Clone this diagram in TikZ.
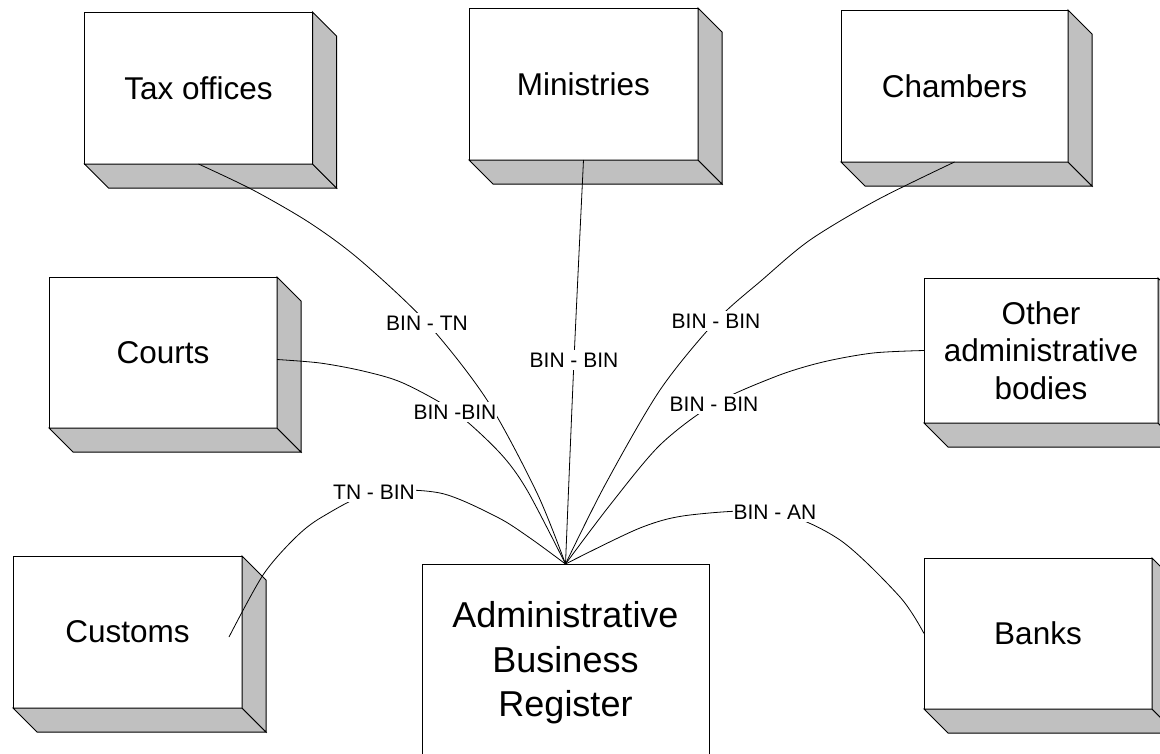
\documentclass[tikz,border=0pt]{standalone}
\usepackage{fontspec}
\setmainfont{Liberation Sans}
\usetikzlibrary{calc}
\definecolor{sidegray}{RGB}{192,192,192}
\pgfdeclarelayer{links}
\pgfdeclarelayer{labels}
\pgfsetlayers{main,links,labels}
\newcommand\drawdepth[1]{%
  \filldraw[side] (#1.south west) -- ++(24,24) -- ($(#1.south east)+(24,24)$) -- (#1.south east) -- cycle;
  \filldraw[side] (#1.north east) -- ++(24,24) -- ($(#1.south east)+(24,24)$) -- (#1.south east) -- cycle;}
\begin{document}
\begin{tikzpicture}[x=1pt,y=-1pt,
  box/.style={draw=black, line width=1pt, fill=white, outer sep=0pt, inner sep=0pt,
    align=center, minimum width=228pt, minimum height=152pt,
    font=\fontsize{31.5}{37.5}\selectfont},
  side/.style={fill=sidegray, draw=black, line width=1pt, line join=miter},
  link/.style={draw=black, line width=0.8pt},
  lbl/.style={fill=white, inner xsep=1pt, inner ysep=3pt, font=\fontsize{21}{25}\selectfont}]
\path[use as bounding box, clip] (0,0) rectangle (1160,753);

% boxes
\node[box] (tax) at (198.5,88) {Tax offices};
\drawdepth{tax}
\node[box, minimum width=229pt] (min) at (583.5,84) {Ministries};
\drawdepth{min}
\node[box, minimum width=227pt] (cham) at (954.5,86) {Chambers};
\drawdepth{cham}
\node[box, minimum height=151pt] (courts) at (163,352.5) {Courts};
\drawdepth{courts}
\node[box, minimum width=234pt, minimum height=145pt] (other) at (1041,350.5) {Other\\administrative\\bodies};
\drawdepth{other}
\node[box, minimum width=229pt] (cus) at (127.5,632) {Customs};
\drawdepth{cus}
\node[box, minimum height=151pt] (banks) at (1038,633.5) {Banks};
\drawdepth{banks}
\node[box, minimum width=287pt, minimum height=198pt, font=\fontsize{36}{44.5}\selectfont] (reg) at (565.5,663) {Administrative\\Business\\Register};

\coordinate (hub) at (reg.north);
\coordinate (courtsEnd) at ($(courts.east)+(0,7)$);
\coordinate (cusEnd) at ($(cus.east)+(-13,5)$);

% labels
\begin{pgfonlayer}{labels}
\node[lbl] (lTax) at (427,323) {BIN - TN};
\node[lbl] (lMin) at (574,360) {BIN - BIN};
\node[lbl] (lCham) at (716,321) {BIN - BIN};
\node[lbl] (lCourt) at (455,412) {BIN -BIN};
\node[lbl] (lOther) at (714,404) {BIN - BIN};
\node[lbl] (lCus) at (374,492) {TN - BIN};
\node[lbl] (lBank) at (775,512) {BIN - AN};
\end{pgfonlayer}

% connectors
\begin{pgfonlayer}{links}
\draw[link] plot[smooth] coordinates {(tax.south) (253,190) (310,223) (360,260) (lTax.center) (487,400) (537,493) (hub)};
\draw[link] plot[smooth] coordinates {(min.south) (lMin.center) (hub)};
\draw[link] plot[smooth] coordinates {(cham.south) (877,200) (810,240) (762,280) (lCham.center) (660,390) (605,485) (hub)};
\draw[link] plot[smooth] coordinates {(other.west) (873,353) (823,362) (777,376) (lOther.center) (660,445) (610,505) (hub)};
\draw[link] plot[smooth] coordinates {(courtsEnd) (320,363) (363,371) (403,383) (lCourt.center) (500,453) (527,490) (hub)};
\draw[link] plot[smooth] coordinates {(cusEnd) (263,575) (295,538) (322,517) (lCus.center) (440,493) (497,517) (530,538) (hub)};
\draw[link] plot[smooth] coordinates {(hub) (640,528) (690,515) (lBank.center) (840,540) (900,597) (banks.west)};
\end{pgfonlayer}
\end{tikzpicture}
\end{document}
